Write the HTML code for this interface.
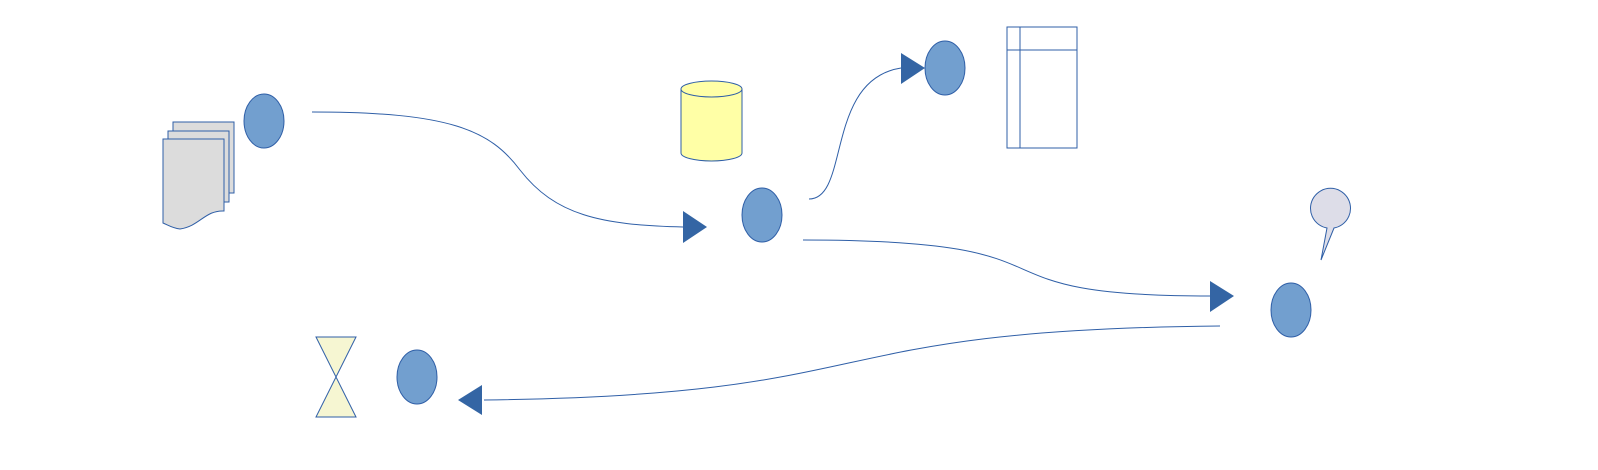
<!DOCTYPE html>
<html><head><style>html,body{margin:0;padding:0;background:#fff;}svg{display:block}</style></head>
<body>
<svg width="1598" height="470" viewBox="0 0 1598 470" xmlns="http://www.w3.org/2000/svg">
<g stroke="#2f5fa7" stroke-width="1">
<!-- documents -->
<rect x="173" y="122" width="61" height="71" fill="#dcdcdc"/>
<rect x="168" y="131" width="61" height="71" fill="#dcdcdc"/>
<path d="M163,139 H224 V211 C205,210 200,226 180,229 C172,228 168,225 163,223 Z" fill="#dcdcdc"/>
<!-- ellipses -->
<ellipse cx="264" cy="121" rx="20" ry="27" fill="#729fcf"/>
<ellipse cx="762" cy="215" rx="20" ry="27" fill="#729fcf"/>
<ellipse cx="945" cy="68" rx="20" ry="27" fill="#729fcf"/>
<ellipse cx="1291" cy="310" rx="20" ry="27" fill="#729fcf"/>
<ellipse cx="417" cy="377" rx="20" ry="27" fill="#729fcf"/>
<!-- cylinder -->
<path d="M681,89 V153 A30.5,8 0 0 0 742,153 V89" fill="#ffffa6"/>
<ellipse cx="711.5" cy="89" rx="30.5" ry="8" fill="#ffffa6"/>
<!-- table -->
<rect x="1007" y="27" width="70" height="121" fill="#fff"/>
<line x1="1007" y1="50" x2="1077" y2="50"/>
<line x1="1020" y1="27" x2="1020" y2="148"/>
<!-- balloon -->
<path d="M1321,260 L1327,228 A20,20 0 1 1 1334,228 Z" fill="#dddde8"/>
<!-- hourglass -->
<path d="M316,337 H356 L316,417 H356 Z" fill="#f6f6d2"/>
<!-- connectors -->
<g fill="none">
<path d="M312,112 C450,112 490,130 520,170 C555,215 600,225 683,227"/>
<path d="M809,199 C850,199 825,80 901,68"/>
<path d="M803,240 C1100,240 950,296 1210,296"/>
<path d="M1220,326 C800,330 900,395 484,400"/>
</g>
</g>
<g fill="#3465a4">
<polygon points="683,211 707,227 683,243"/>
<polygon points="901,53 925,68 901,84"/>
<polygon points="1210,281 1234,296 1210,312"/>
<polygon points="482,385 458,400 482,415"/>
</g>
</svg>
</body></html>
